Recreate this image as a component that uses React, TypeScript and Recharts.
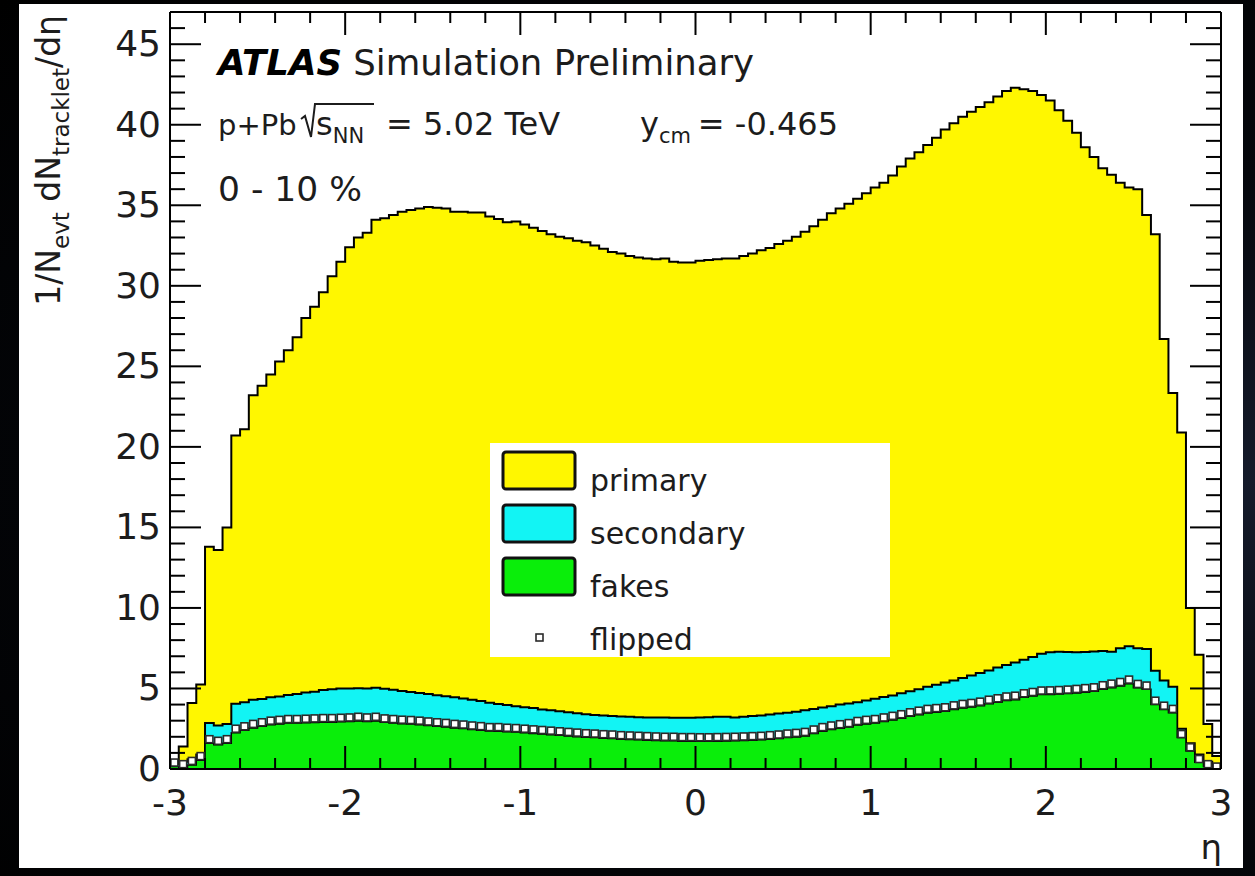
import React from 'react';
import { ComposedChart, Area, Line, XAxis, YAxis } from 'recharts';

// 120 eta bins of width 0.05 between -3 and 3
const ETA_MIN = -3;
const ETA_MAX = 3;
const BIN_WIDTH = 0.05;

// stacked heights per bin (primary + secondary + fakes)
const TOTAL = [
  0.5, 1.4, 4.1, 5.25, 13.8, 13.6, 15.0, 20.7, 21.1, 23.2,
  23.8, 24.5, 25.3, 26.0, 26.8, 28.0, 28.7, 29.6, 30.6, 31.5,
  32.4, 33.0, 33.3, 34.1, 34.2, 34.4, 34.6, 34.7, 34.8, 34.9,
  34.85, 34.8, 34.6, 34.6, 34.55, 34.55, 34.3, 34.15, 33.95, 34.0,
  33.8, 33.6, 33.4, 33.2, 33.05, 32.95, 32.8, 32.7, 32.5, 32.3,
  32.1, 32.0, 31.85, 31.75, 31.7, 31.65, 31.7, 31.5, 31.45, 31.45,
  31.55, 31.6, 31.65, 31.7, 31.7, 31.85, 32.0, 32.2, 32.35, 32.6,
  32.8, 33.05, 33.35, 33.7, 34.1, 34.5, 34.8, 35.1, 35.4, 35.75,
  36.1, 36.4, 36.85, 37.4, 37.9, 38.3, 38.75, 39.2, 39.7, 40.1,
  40.5, 40.8, 41.1, 41.4, 41.75, 42.1, 42.3, 42.2, 42.1, 41.85,
  41.5, 40.9, 40.25, 39.5, 38.6, 38.0, 37.3, 36.9, 36.4, 36.1,
  36.0, 34.4, 33.2, 26.7, 23.35, 20.9, 10.0, 7.1, 2.8, 0.8,
];

// secondary + fakes
const SECONDARY_TOP = [
  0.3, 0.45, 0.6, 0.9, 2.85, 2.7, 2.8, 4.05, 4.15, 4.3,
  4.35, 4.45, 4.5, 4.6, 4.65, 4.75, 4.8, 4.9, 4.95, 5.0,
  5.0, 5.02, 5.0, 5.05, 4.98, 4.92, 4.85, 4.78, 4.72, 4.65,
  4.58, 4.52, 4.45, 4.38, 4.3, 4.22, 4.12, 4.04, 3.98, 3.9,
  3.84, 3.78, 3.7, 3.64, 3.58, 3.52, 3.46, 3.4, 3.36, 3.32,
  3.29, 3.26, 3.24, 3.22, 3.2, 3.2, 3.19, 3.18, 3.18, 3.18,
  3.2, 3.22, 3.25, 3.25, 3.2, 3.25, 3.29, 3.32, 3.38, 3.44,
  3.5, 3.56, 3.64, 3.73, 3.82, 3.9, 4.0, 4.07, 4.14, 4.25,
  4.36, 4.47, 4.57, 4.7, 4.82, 4.95, 5.1, 5.23, 5.37, 5.5,
  5.65, 5.8, 5.96, 6.12, 6.3, 6.45, 6.62, 6.78, 6.95, 7.15,
  7.25, 7.28, 7.27, 7.25, 7.27, 7.3, 7.33, 7.28, 7.5, 7.62,
  7.5, 7.45, 6.1, 5.5, 5.1, 2.5, 1.6, 0.9, 0.45, 0.2,
];

const FAKES = [
  0.15, 0.1, 0.25, 0.55, 1.6, 1.5, 1.6, 2.25, 2.4, 2.55,
  2.65, 2.75, 2.8, 2.85, 2.85, 2.87, 2.89, 2.91, 2.91, 2.93,
  2.95, 2.98, 2.95, 2.98, 2.9, 2.85, 2.81, 2.79, 2.75, 2.7,
  2.65, 2.61, 2.55, 2.51, 2.45, 2.41, 2.36, 2.35, 2.31, 2.29,
  2.25, 2.21, 2.17, 2.13, 2.09, 2.05, 2.01, 1.97, 1.95, 1.91,
  1.89, 1.85, 1.83, 1.81, 1.79, 1.77, 1.75, 1.75, 1.73, 1.73,
  1.72, 1.72, 1.73, 1.74, 1.75, 1.77, 1.79, 1.81, 1.85, 1.89,
  1.95, 1.99, 2.05, 2.2, 2.35, 2.45, 2.53, 2.6, 2.73, 2.8,
  2.85, 2.95, 3.05, 3.15, 3.27, 3.37, 3.48, 3.53, 3.58, 3.7,
  3.79, 3.85, 3.93, 4.05, 4.14, 4.25, 4.3, 4.45, 4.53, 4.62,
  4.63, 4.65, 4.68, 4.72, 4.77, 4.82, 4.95, 5.05, 5.15, 5.3,
  5.05, 4.95, 4.0, 3.7, 3.5, 1.95, 1.12, 0.42, 0.15, 0.05,
];

const FLIPPED = [
  0.4, 0.3, 0.5, 0.8, 1.85, 1.75, 1.85, 2.5, 2.65, 2.8,
  2.9, 3.0, 3.05, 3.1, 3.1, 3.12, 3.14, 3.16, 3.16, 3.18,
  3.2, 3.24, 3.2, 3.24, 3.14, 3.1, 3.06, 3.04, 3.0, 2.95,
  2.9, 2.86, 2.8, 2.76, 2.7, 2.66, 2.6, 2.6, 2.56, 2.54,
  2.5, 2.46, 2.42, 2.38, 2.34, 2.3, 2.26, 2.22, 2.2, 2.16,
  2.14, 2.1, 2.08, 2.06, 2.04, 2.02, 2.0, 2.0, 1.98, 1.98,
  1.97, 1.97, 1.98, 1.99, 2.0, 2.02, 2.04, 2.06, 2.1, 2.14,
  2.2, 2.24, 2.3, 2.45, 2.6, 2.7, 2.78, 2.85, 2.98, 3.05,
  3.1, 3.2, 3.3, 3.4, 3.52, 3.62, 3.73, 3.78, 3.83, 3.95,
  4.04, 4.1, 4.18, 4.3, 4.39, 4.5, 4.55, 4.7, 4.78, 4.87,
  4.88, 4.9, 4.93, 4.97, 5.02, 5.07, 5.2, 5.3, 5.4, 5.55,
  5.28, 5.18, 4.24, 3.93, 3.73, 2.17, 1.35, 0.62, 0.3, 0.15,
];

const ETA_TICKS = [
  -3, -2.8, -2.6, -2.4, -2.2, -2, -1.8, -1.6, -1.4, -1.2, -1, -0.8, -0.6, -0.4, -0.2,
  0, 0.2, 0.4, 0.6, 0.8, 1, 1.2, 1.4, 1.6, 1.8, 2, 2.2, 2.4, 2.6, 2.8, 3,
];
const Y_TICKS = [
  0, 1, 2, 3, 4, 5, 6, 7, 8, 9, 10, 11, 12, 13, 14, 15, 16, 17, 18, 19, 20, 21, 22, 23,
  24, 25, 26, 27, 28, 29, 30, 31, 32, 33, 34, 35, 36, 37, 38, 39, 40, 41, 42, 43, 44, 45, 46, 47,
];
const Y_MAX = 47;

const LEGEND_ITEMS = [
  { name: 'primary', fill: '#fff700', kind: 'box' },
  { name: 'secondary', fill: '#12f4f4', kind: 'box' },
  { name: 'fakes', fill: '#0aee0a', kind: 'box' },
  { name: 'flipped', fill: '#ffffff', kind: 'marker' },
];

const FONT = '"DejaVu Sans", Verdana, sans-serif';
const INK = '#1c1c1c';

// one row per bin centre, plus the two outer edges so the steps reach the frame
const binRows = TOTAL.map((t, i) => ({
  eta: +(ETA_MIN + (i + 0.5) * BIN_WIDTH).toFixed(3),
  total: t,
  secondary: SECONDARY_TOP[i],
  fakes: FAKES[i],
  flipped: FLIPPED[i],
}));
const last = TOTAL.length - 1;
const data = [
  { eta: ETA_MIN, total: TOTAL[0], secondary: SECONDARY_TOP[0], fakes: FAKES[0], flipped: null },
  ...binRows,
  { eta: ETA_MAX, total: TOTAL[last], secondary: SECONDARY_TOP[last], fakes: FAKES[last], flipped: null },
];

const isWhole = (v: number) => Math.abs(v - Math.round(v)) < 1e-6;

const BottomTick = ({ x, y, payload }: any) => {
  const major = isWhole(payload.value);
  return (
    <g>
      <line x1={x} y1={y} x2={x} y2={y - (major ? 23 : 11)} stroke="#000" strokeWidth={2} />
      {major && (
        <text x={x} y={y + 46} textAnchor="middle" fontFamily={FONT} fontSize={36} fill={INK}>
          {Math.round(payload.value)}
        </text>
      )}
    </g>
  );
};

const TopTick = ({ x, y, payload }: any) => {
  const major = isWhole(payload.value);
  return <line x1={x} y1={y} x2={x} y2={y + (major ? 23 : 11)} stroke="#000" strokeWidth={2} />;
};

const LeftTick = ({ x, y, payload }: any) => {
  const v = Math.round(payload.value);
  const major = v % 5 === 0;
  return (
    <g>
      <line x1={x} y1={y} x2={x + (major ? 31 : 15)} y2={y} stroke="#000" strokeWidth={2} />
      {major && (
        <text x={x - 9} y={y + 12} textAnchor="end" fontFamily={FONT} fontSize={36} fill={INK}>
          {v}
        </text>
      )}
    </g>
  );
};

const RightTick = ({ x, y, payload }: any) => {
  const major = Math.round(payload.value) % 5 === 0;
  return <line x1={x} y1={y} x2={x - (major ? 31 : 15)} y2={y} stroke="#000" strokeWidth={2} />;
};

const FlippedMarker = (props: any) => {
  const { cx, cy, value, index } = props;
  if (value == null || cx == null || cy == null) return <g key={`fm-${index}`} />;
  return (
    <rect
      key={`fm-${index}`}
      x={cx - 3.5}
      y={cy - 3.5}
      width={7}
      height={7}
      fill="#fff"
      stroke="#2a2a2a"
      strokeWidth={1.6}
    />
  );
};

const Annotations = () => (
  <svg width={1255} height={876} style={{ position: 'absolute', left: 0, top: 0, pointerEvents: 'none' }}>
    <text x={218} y={75} fontFamily={FONT} fontSize={35.5} fill={INK}>
      <tspan fontWeight="bold" fontStyle="italic" fill="#000">ATLAS</tspan>
      <tspan> Simulation Preliminary</tspan>
    </text>

    <g fontFamily={FONT} fill={INK}>
      <text x={218} y={135} fontSize={29}>p+Pb</text>
      <path d="M301 119 L305 116 L311 137 L315 104 L374 104" fill="none" stroke={INK} strokeWidth={2} />
      <text x={316} y={135} fontSize={32}>
        s<tspan fontSize={21} dy={8}>NN</tspan>
      </text>
      <text x={386} y={135} fontSize={32}>= 5.02 TeV</text>
      <text x={640} y={135} fontSize={32}>
        y<tspan fontSize={21} dy={8}>cm</tspan>
      </text>
      <text x={838} y={135} textAnchor="end" fontSize={32}>= -0.465</text>
    </g>

    <text x={218} y={201} fontFamily={FONT} fontSize={34.5} fill={INK}>0 - 10 %</text>

    <g transform="translate(60, 15) rotate(-90)">
      <text x={0} y={0} textAnchor="end" fontFamily={FONT} fontSize={33} fill={INK}>
        1/N<tspan fontSize={23} dy={9}>evt</tspan>
        <tspan dy={-9}> dN</tspan>
        <tspan fontSize={23} dy={9}>tracklet</tspan>
        <tspan dy={-9}>/dη</tspan>
      </text>
    </g>

    <text x={1222} y={859} textAnchor="end" fontFamily={FONT} fontSize={34} fill={INK}>η</text>

    <g>
      <rect x={490} y={443} width={400} height={214} fill="#fff" />
      {LEGEND_ITEMS.map((item, i) => {
        const top = 452 + i * 53;
        return (
          <g key={item.name}>
            {item.kind === 'box' ? (
              <rect x={503} y={top} width={72} height={37} rx={3} fill={item.fill} stroke="#111" strokeWidth={3} />
            ) : (
              <rect x={536} y={top + 23} width={7} height={7} fill="#fff" stroke="#2a2a2a" strokeWidth={1.6} />
            )}
            <text x={590} y={top + 39} fontFamily={FONT} fontSize={30} fill={INK}>
              {item.name}
            </text>
          </g>
        );
      })}
    </g>
  </svg>
);

export default function App() {
  return (
    <div
      style={{
        position: 'absolute',
        left: 0,
        top: 0,
        width: 1255,
        height: 876,
        overflow: 'hidden',
        background: 'radial-gradient(ellipse at 100% 55%, #151b2b 0%, #05070c 45%, #000 100%)',
      }}
    >
      <div style={{ position: 'absolute', left: 19, top: 4, width: 1224, height: 864, background: '#fff' }} />
      <div style={{ position: 'absolute', left: 0, top: 0 }}>
        <ComposedChart
          width={1255}
          height={876}
          data={data}
          margin={{ top: 11, right: 33, bottom: 67, left: 110 }}
        >
          <Area
            type="step"
            dataKey="total"
            stroke="#000"
            strokeWidth={2}
            fill="#fff700"
            fillOpacity={1}
            isAnimationActive={false}
            dot={false}
            activeDot={false}
          />
          <Area
            type="step"
            dataKey="secondary"
            stroke="#000"
            strokeWidth={2}
            fill="#12f4f4"
            fillOpacity={1}
            isAnimationActive={false}
            dot={false}
            activeDot={false}
          />
          <Area
            type="step"
            dataKey="fakes"
            stroke="#000"
            strokeWidth={1.5}
            fill="#0aee0a"
            fillOpacity={1}
            isAnimationActive={false}
            dot={false}
            activeDot={false}
          />
          <Line
            dataKey="flipped"
            stroke="none"
            dot={FlippedMarker}
            activeDot={false}
            isAnimationActive={false}
            legendType="none"
          />
          <XAxis
            dataKey="eta"
            type="number"
            domain={[ETA_MIN, ETA_MAX]}
            ticks={ETA_TICKS}
            interval={0}
            height={40}
            tickSize={0}
            tickMargin={0}
            tickLine={false}
            axisLine={{ stroke: '#000', strokeWidth: 2 }}
            tick={(p: any) => <BottomTick {...p} />}
            allowDataOverflow
          />
          <XAxis
            xAxisId="top"
            orientation="top"
            dataKey="eta"
            type="number"
            domain={[ETA_MIN, ETA_MAX]}
            ticks={ETA_TICKS}
            interval={0}
            height={1}
            tickSize={0}
            tickMargin={0}
            tickLine={false}
            axisLine={{ stroke: '#000', strokeWidth: 2 }}
            tick={(p: any) => <TopTick {...p} />}
            allowDataOverflow
          />
          <YAxis
            type="number"
            domain={[0, Y_MAX]}
            ticks={Y_TICKS}
            interval={0}
            width={60}
            tickSize={0}
            tickMargin={0}
            tickLine={false}
            axisLine={{ stroke: '#000', strokeWidth: 2 }}
            tick={(p: any) => <LeftTick {...p} />}
            allowDataOverflow
          />
          <YAxis
            yAxisId="right"
            orientation="right"
            type="number"
            domain={[0, Y_MAX]}
            ticks={Y_TICKS}
            interval={0}
            width={1}
            tickSize={0}
            tickMargin={0}
            tickLine={false}
            axisLine={{ stroke: '#000', strokeWidth: 2 }}
            tick={(p: any) => <RightTick {...p} />}
            allowDataOverflow
          />
        </ComposedChart>
      </div>
      <Annotations />
    </div>
  );
}
